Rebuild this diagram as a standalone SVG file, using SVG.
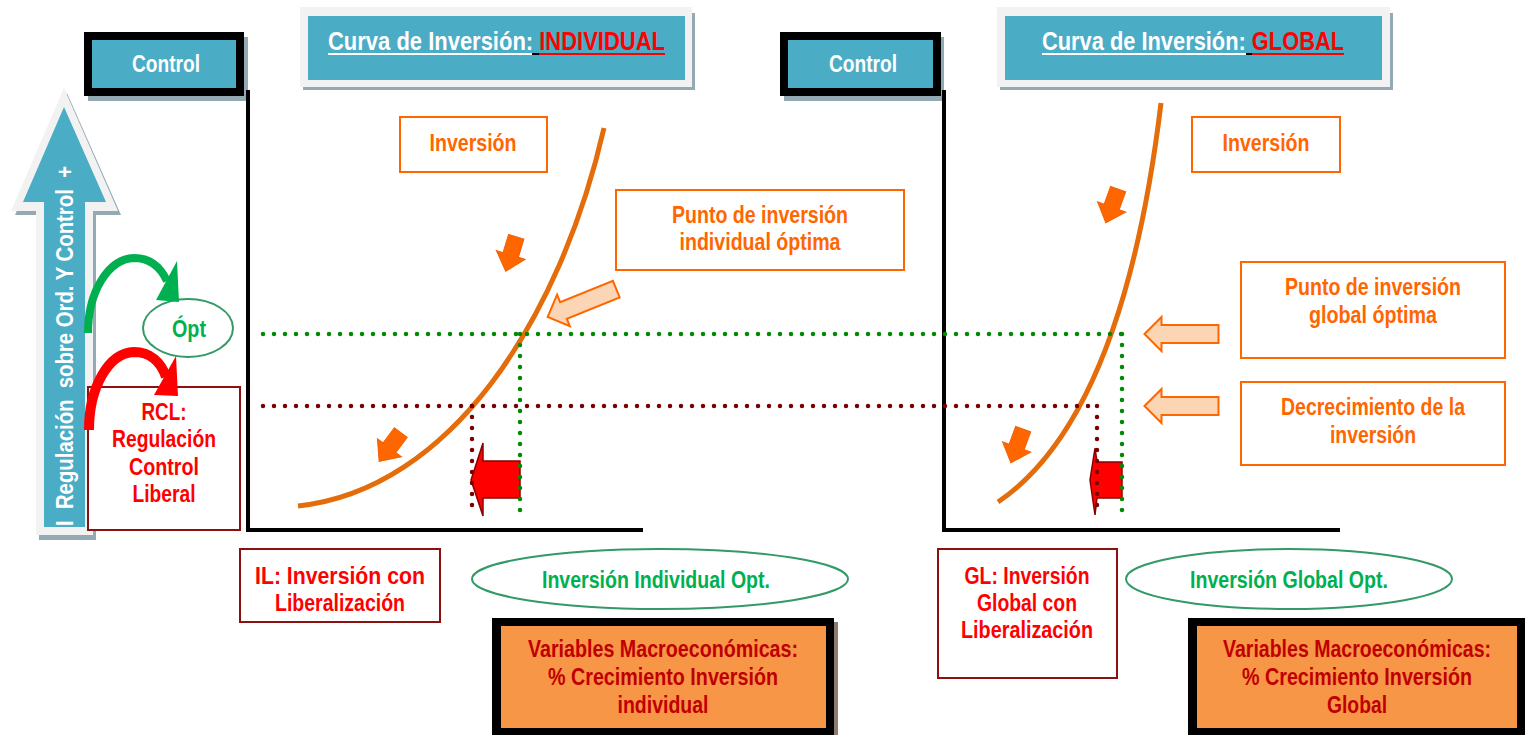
<svg xmlns="http://www.w3.org/2000/svg" width="1525" height="735" viewBox="0 0 1525 735">
<style>
text{font-family:'Liberation Sans Narrow','Liberation Sans',Arial,sans-serif;font-weight:bold;font-size:23px;text-anchor:middle}
.w{fill:#ffffff}
.o{fill:#ff6600}
.r{fill:#ff0000}
.g{fill:#00b050}
.dr{fill:#c00000}
.teal{fill:#4bacc6}
.shadow{fill:#93aab4}
.frame{fill:#f2f2f2}
.obox{fill:#ffffff;stroke:#ff6600;stroke-width:2}
.rbox{fill:#ffffff;stroke:#8b1010;stroke-width:2}
.ell{fill:#ffffff;stroke:#339966;stroke-width:2}
.curve{fill:none;stroke:#e46c0a;stroke-width:5}
.axis{fill:none;stroke:#000000;stroke-width:4}
.gdot{fill:none;stroke:#008a00;stroke-width:4.5;stroke-linecap:round;stroke-dasharray:0 11}
.rdot{fill:none;stroke:#7a0000;stroke-width:4.5;stroke-linecap:round;stroke-dasharray:0 11}
.sarrow{fill:#ff6600;stroke:#f06000;stroke-width:1}
.parrow{fill:#fcd5b5;stroke:#ff6600;stroke-width:2}
.redarrow{fill:#ff0000;stroke:#8b0000;stroke-width:1.5}
</style>
<defs>
<path id="sa" d="M-8,-18 L8,-18 L8,1 L15,1 L0,18 L-15,1 L-8,1 Z"/>
<path id="pa" d="M-37,0 L-20,-17 L-20,-9 L37,-9 L37,9 L-20,9 L-20,17 Z"/>
</defs>
<rect width="1525" height="735" fill="#ffffff"/>

<!-- Big vertical arrow -->
<g id="reg-arrow">
<polygon class="shadow" points="67,93 121,215 96,215 96,540 39,540 39,215 15,215"/>
<polygon class="frame" points="64,88 118,211 93,211 93,535 36,535 36,211 11,211"/>
<polygon class="teal" points="64,107 106,202 85,202 85,527 44,527 44,202 23,202"/>
<text class="w" style="white-space:pre" transform="translate(73,346) rotate(-90)" textLength="360" lengthAdjust="spacingAndGlyphs">I  Regulación  sobre Ord. Y Control  +</text>
</g>

<!-- Control boxes -->
<g id="control-left">
<rect class="shadow" x="88" y="37" width="160" height="64"/>
<rect x="84" y="32" width="160" height="64" fill="#000000"/>
<rect class="teal" x="92" y="40" width="144" height="48"/>
<text class="w" x="166" y="72" textLength="68" lengthAdjust="spacingAndGlyphs">Control</text>
</g>
<g id="control-right">
<rect class="shadow" x="784" y="37" width="160" height="64"/>
<rect x="780" y="32" width="161" height="64" fill="#000000"/>
<rect class="teal" x="788" y="40" width="145" height="48"/>
<text class="w" x="863" y="72" textLength="68" lengthAdjust="spacingAndGlyphs">Control</text>
</g>

<!-- Title boxes -->
<g id="title-individual">
<rect class="shadow" x="303" y="13" width="392" height="77"/>
<rect class="frame" x="300" y="7" width="392" height="80"/>
<rect class="teal" x="308" y="16" width="377" height="64"/>
<line x1="328" y1="54" x2="532" y2="54" stroke="#ffffff" stroke-width="2"/>
<line x1="532" y1="54" x2="539" y2="54" stroke="#000000" stroke-width="2"/>
<line x1="539" y1="54" x2="665" y2="54" stroke="#ff0000" stroke-width="2"/>
<text class="w" x="328" y="50" style="text-anchor:start;font-size:25px;white-space:pre" textLength="337" lengthAdjust="spacingAndGlyphs">Curva de Inversión: <tspan class="r">INDIVIDUAL</tspan></text>
</g>
<g id="title-global">
<rect class="shadow" x="1000" y="13" width="393" height="77"/>
<rect class="frame" x="997" y="7" width="393" height="80"/>
<rect class="teal" x="1005" y="16" width="377" height="64"/>
<line x1="1042" y1="54" x2="1246" y2="54" stroke="#ffffff" stroke-width="2"/>
<line x1="1246" y1="54" x2="1252" y2="54" stroke="#000000" stroke-width="2"/>
<line x1="1252" y1="54" x2="1344" y2="54" stroke="#ff0000" stroke-width="2"/>
<text class="w" x="1042" y="50" style="text-anchor:start;font-size:25px;white-space:pre" textLength="302" lengthAdjust="spacingAndGlyphs">Curva de Inversión: <tspan class="r">GLOBAL</tspan></text>
</g>

<!-- Axes -->
<g id="axes">
<path class="axis" d="M248,90 L248,530 L643,530"/>
<path class="axis" d="M944,90 L944,530 L1340,530"/>
</g>

<!-- Orange label boxes -->
<g id="inversion-left">
<rect class="obox" x="400" y="117" width="147" height="55"/>
<text class="o" x="473" y="151" textLength="87" lengthAdjust="spacingAndGlyphs">Inversión</text>
</g>
<g id="inversion-right">
<rect class="obox" x="1192" y="117" width="148" height="55"/>
<text class="o" x="1266" y="151" textLength="87" lengthAdjust="spacingAndGlyphs">Inversión</text>
</g>
<g id="punto-individual">
<rect class="obox" x="616" y="190" width="288" height="80"/>
<text class="o" x="760" y="223" textLength="176" lengthAdjust="spacingAndGlyphs">Punto de inversión</text>
<text class="o" x="760" y="250" textLength="161" lengthAdjust="spacingAndGlyphs">individual óptima</text>
</g>
<g id="punto-global">
<rect class="obox" x="1241" y="262" width="264" height="96"/>
<text class="o" x="1373" y="295" textLength="176" lengthAdjust="spacingAndGlyphs">Punto de inversión</text>
<text class="o" x="1373" y="323" textLength="128" lengthAdjust="spacingAndGlyphs">global óptima</text>
</g>
<g id="decrecimiento">
<rect class="obox" x="1241" y="382" width="264" height="83"/>
<text class="o" x="1373" y="415" textLength="184" lengthAdjust="spacingAndGlyphs">Decrecimiento de la</text>
<text class="o" x="1373" y="443" textLength="86" lengthAdjust="spacingAndGlyphs">inversión</text>
</g>

<!-- Left side: Ópt and RCL -->
<g id="opt">
<ellipse class="ell" cx="188" cy="328" rx="45" ry="29"/>
<text class="g" x="189" y="337" textLength="34" lengthAdjust="spacingAndGlyphs">Ópt</text>
</g>
<g id="rcl">
<rect class="rbox" x="88" y="387" width="152" height="143"/>
<text class="r" x="164" y="420" textLength="45" lengthAdjust="spacingAndGlyphs">RCL:</text>
<text class="r" x="164" y="447" textLength="104" lengthAdjust="spacingAndGlyphs">Regulación</text>
<text class="r" x="164" y="475" textLength="70" lengthAdjust="spacingAndGlyphs">Control</text>
<text class="r" x="164" y="502" textLength="63" lengthAdjust="spacingAndGlyphs">Liberal</text>
</g>

<!-- Bottom boxes -->
<g id="il">
<rect class="rbox" x="240" y="549" width="200" height="73"/>
<text class="r" x="340" y="584" textLength="170" lengthAdjust="spacingAndGlyphs">IL: Inversión con</text>
<text class="r" x="340" y="611" textLength="130" lengthAdjust="spacingAndGlyphs">Liberalización</text>
</g>
<g id="opt-individual">
<ellipse class="ell" cx="660" cy="579" rx="188" ry="30"/>
<text class="g" x="656" y="588" textLength="228" lengthAdjust="spacingAndGlyphs">Inversión Individual Opt.</text>
</g>
<g id="macro-individual">
<rect x="496" y="622" width="342" height="117" fill="#8c7b6e"/>
<rect x="492" y="618" width="342" height="117" fill="#000000"/>
<rect x="501" y="626" width="325" height="102" fill="#f79646"/>
<text class="dr" x="663" y="657" textLength="270" lengthAdjust="spacingAndGlyphs">Variables Macroeconómicas:</text>
<text class="dr" x="663" y="685" textLength="230" lengthAdjust="spacingAndGlyphs">% Crecimiento Inversión</text>
<text class="dr" x="663" y="713" textLength="91" lengthAdjust="spacingAndGlyphs">individual</text>
</g>
<g id="gl">
<rect class="rbox" x="938" y="549" width="179" height="129"/>
<text class="r" x="1027" y="584" textLength="125" lengthAdjust="spacingAndGlyphs">GL: Inversión</text>
<text class="r" x="1027" y="611" textLength="100" lengthAdjust="spacingAndGlyphs">Global con</text>
<text class="r" x="1027" y="638" textLength="132" lengthAdjust="spacingAndGlyphs">Liberalización</text>
</g>
<g id="opt-global">
<ellipse class="ell" cx="1289" cy="579" rx="163" ry="30"/>
<text class="g" x="1289" y="588" textLength="198" lengthAdjust="spacingAndGlyphs">Inversión Global Opt.</text>
</g>
<g id="macro-global">
<rect x="1188" y="618" width="337" height="117" fill="#000000"/>
<rect x="1197" y="626" width="320" height="102" fill="#f79646"/>
<text class="dr" x="1357" y="657" textLength="268" lengthAdjust="spacingAndGlyphs">Variables Macroeconómicas:</text>
<text class="dr" x="1357" y="685" textLength="230" lengthAdjust="spacingAndGlyphs">% Crecimiento Inversión</text>
<text class="dr" x="1357" y="713" textLength="60" lengthAdjust="spacingAndGlyphs">Global</text>
</g>

<!-- Connectors -->
<g id="connectors">
<path d="M88,333 C88,292 108,259 134,258 C151,258 161,268 167,281" fill="none" stroke="#00b050" stroke-width="8"/>
<polygon points="177,261 156,300 179,302" fill="#00b050"/>
<path d="M89,430 C89,388 108,353 134,352 C150,352 161,362 166,377" fill="none" stroke="#ff0000" stroke-width="10"/>
<polygon points="176,356 154,395 178,396" fill="#ff0000"/>

<path class="curve" d="M298,506 C450,490 560,320 604,128"/>
<path class="curve" d="M998,502 C1060,460 1130,360 1161,103"/>

<use href="#sa" class="sarrow" transform="translate(511,254) rotate(17)"/>
<use href="#sa" class="sarrow" transform="translate(390,447) rotate(37)"/>
<use href="#sa" class="sarrow" transform="translate(1112,206) rotate(20)"/>
<use href="#sa" class="sarrow" transform="translate(1017,446) rotate(20)"/>

<use href="#pa" class="parrow" transform="translate(582,303) rotate(-22)"/>
<use href="#pa" class="parrow" transform="translate(1181.5,334)"/>
<use href="#pa" class="parrow" transform="translate(1181.5,406)"/>

<path class="redarrow" d="M520,461 L483,461 L483,443 L471,480 L483,516 L483,498 L520,498 Z"/>
<path class="redarrow" d="M1122,462 L1097,462 L1095,448 L1090,480 L1095,515 L1097,498 L1122,498 Z"/>

<path class="gdot" d="M263,334 L1122,334"/>
<path class="gdot" d="M520,334 L520,521"/>
<path class="gdot" d="M1122,334 L1122,521"/>
<path class="rdot" d="M263,406 L1097,406"/>
<path class="rdot" d="M472,406 L472,516"/>
<path class="rdot" d="M1097,406 L1097,516"/>
</g>
</svg>
